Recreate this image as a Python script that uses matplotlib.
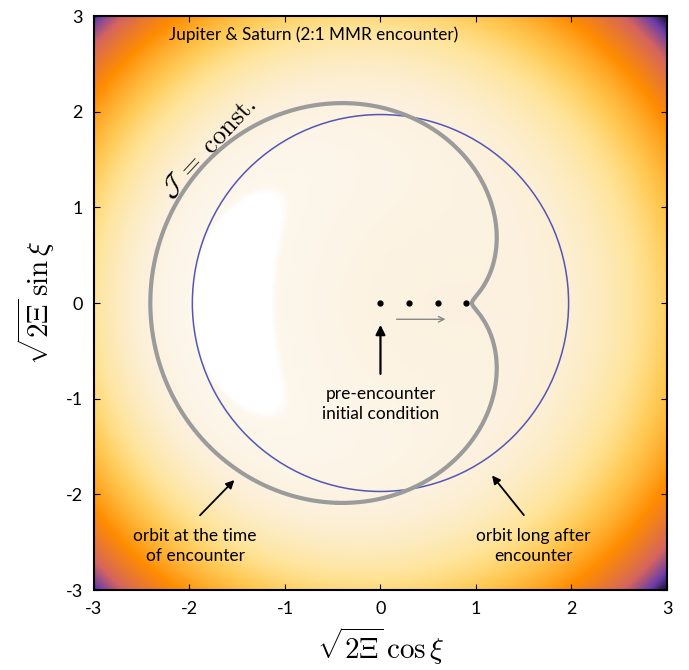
import numpy as np
import matplotlib.pyplot as plt
from matplotlib.colors import LinearSegmentedColormap

plt.rcParams['axes.unicode_minus'] = False
plt.rcParams['mathtext.fontset'] = 'cm'

# Hamiltonian  H = r^4 + beta*r^2 + gamma*x   (r^2 = x^2 + y^2)
beta = -3.9
gamma = 4.104
x_saddle = 0.9

# trajectory dots of the initial condition
dots_x = [0.0, 0.3, 0.6, 0.9]
dots_y = [0.0, 0.0, 0.0, 0.0]

# orbit long after encounter (circle)
r_after = 1.97

# colour range of the background
h_low = -8.15
h_high = 266

ticks = [-3, -2, -1, 0, 1, 2, 3]
tick_labels = ['-3', '-2', '-1', '0', '1', '2', '3']

cmap = LinearSegmentedColormap.from_list('bg', [
    (0.0, '#ffffff'), (0.0015, '#fdf7ec'), (0.04, '#fcf1de'), (0.16, '#ffe396'),
    (0.26, '#ffca55'), (0.47, '#ff8c00'), (0.72, '#d4645f'),
    (0.88, '#693caa'), (1.0, '#140f28')], N=4096)

fig = plt.figure(figsize=(6.89, 6.70), dpi=100)
ax = fig.add_axes([0.1364, 0.1194, 0.8316, 0.8567])

xx = np.linspace(-3, 3, 600)
X, Y = np.meshgrid(xx, xx)
R2 = X**2 + Y**2
H = R2**2 + beta * R2 + gamma * X
ax.imshow(H, extent=[-3, 3, -3, 3], origin='lower', cmap=cmap,
          vmin=h_low, vmax=h_high, interpolation='bilinear', aspect='auto')

# separatrix at the time of encounter: outer branch only
h_sep = x_saddle**4 + beta * x_saddle**2 + gamma * x_saddle
cs = ax.contour(X, Y, H, levels=[h_sep + 0.004])
seg = max(cs.allsegs[0], key=len)
cs.remove()
ax.plot(seg[:, 0], seg[:, 1], color='#9b9b9b', lw=3, solid_capstyle='round')

ax.add_patch(plt.Circle((0, 0), r_after, fill=False, color='#5555b8', lw=1.1))

ax.plot(dots_x, dots_y, 'o', color='k', ms=3.5)

sans = ['Lato', 'DejaVu Sans']

# arrows and notes
ax.annotate('', xy=(0.71, -0.17), xytext=(0.14, -0.17),
            arrowprops=dict(arrowstyle='->', color='#888888', lw=1))
ax.annotate('', xy=(0, -0.2), xytext=(0, -0.77),
            arrowprops=dict(arrowstyle='-|>', color='k', lw=1.6, mutation_scale=14))
ax.text(0, -1.06, 'pre-encounter\ninitial condition', ha='center', va='center',
        fontsize=12.5, family=sans, linespacing=1.3)

ax.annotate('', xy=(-1.51, -1.83), xytext=(-1.91, -2.24),
            arrowprops=dict(arrowstyle='-|>', color='k', lw=1.3, mutation_scale=12))
ax.text(-1.94, -2.54, 'orbit at the time\nof encounter', ha='center', va='center',
        fontsize=12.5, family=sans, linespacing=1.3)

ax.annotate('', xy=(1.15, -1.78), xytext=(1.52, -2.24),
            arrowprops=dict(arrowstyle='-|>', color='k', lw=1.3, mutation_scale=12))
ax.text(1.6, -2.54, 'orbit long after\nencounter', ha='center', va='center',
        fontsize=12.5, family=sans, linespacing=1.3)

ax.text(-0.7, 2.8, 'Jupiter & Saturn (2:1 MMR encounter)', ha='center', va='center',
        fontsize=12.3, family=sans)
ax.text(-1.8, 1.62, r'$\mathcal{J}\;=\;\mathrm{const.}$', ha='center', va='center',
        fontsize=19, rotation=47)

ax.set_xlim(-3, 3)
ax.set_ylim(-3, 3)
ax.set_xticks(ticks)
ax.set_xticklabels(tick_labels, family=sans, fontsize=13)
ax.set_yticks(ticks)
ax.set_yticklabels(tick_labels, family=sans, fontsize=13)
ax.tick_params(direction='in', top=True, right=True, length=4, pad=8)
for s in ax.spines.values():
    s.set_linewidth(1.5)

ax.set_xlabel(r'$\sqrt{2\Xi}\,\cos\xi$', fontsize=21, labelpad=6)
ax.set_ylabel(r'$\sqrt{2\Xi}\,\sin\xi$', fontsize=21, labelpad=6)

plt.savefig('out.png', dpi=100)
